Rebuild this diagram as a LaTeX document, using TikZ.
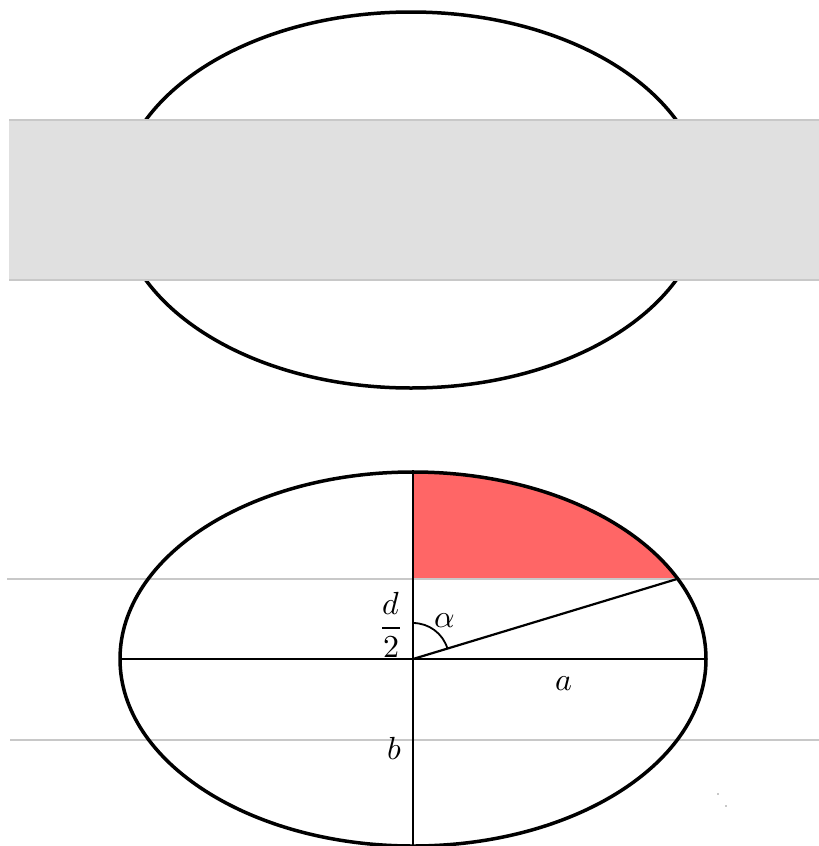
\documentclass[tikz,border=0pt]{standalone}
\usepackage{amsmath}
\usepackage{unicode-math}
\setmathfont{Latin Modern Math}
\usetikzlibrary{calc}
\definecolor{fasciagrigia}{RGB}{224,224,224}
\definecolor{lineagrigia}{RGB}{200,200,200}
\definecolor{settorerosso}{RGB}{255,102,102}

\begin{document}
\begin{tikzpicture}[x=1pt,y=-1pt,
    bordo/.style={line width=3.5pt, color=black},
    asse/.style={line width=2.2pt, color=black},
    guida/.style={line width=2pt, color=lineagrigia},
    etichetta/.style={inner sep=0pt, font=\fontsize{32}{38}\selectfont}]
    \useasboundingbox (0,0) rectangle (819,846);
    \clip (0,0) rectangle (819,846);

    % Ellisse superiore (coperta dalla fascia grigia)
    \coordinate (centroSup) at (411,200);
    \draw[bordo] (centroSup) ellipse [x radius=293pt, y radius=188pt];
    \fill[fasciagrigia] (9,119.5) rectangle (819,280);
    \draw[guida] (9,119.5) -- (819,119.5);
    \draw[guida] (9,280) -- (819,280);

    % Ellisse inferiore: settore rosso sopra la linea d/2
    \coordinate (centroInf) at (413,659);
    \coordinate (puntoP) at (677,579);
    \begin{scope}
        \clip (413,400) rectangle (819,579);
        \fill[settorerosso] (centroInf) ellipse [x radius=293pt, y radius=187pt];
    \end{scope}

    % Linee grigie orizzontali
    \draw[guida] (7,579) -- (819,579);
    \draw[guida] (10,740) -- (819,740);

    % Contorno e assi
    \draw[bordo] (centroInf) ellipse [x radius=293pt, y radius=187pt];
    \draw[asse] (120,659) -- (706,659);
    \draw[asse] (413,470) -- (413,846);
    \draw[asse] (centroInf) -- (puntoP);

    % Angolo alfa
    \draw[line width=1.8pt] ([yshift=36pt]centroInf) arc[start angle=90, end angle=16.9, radius=36pt];

    % Etichette
    \node[etichetta] (mezzoD) at (391,625) {$\dfrac{d}{2}$};
    \node[etichetta] (alfa) at (445,621) {$\alpha$};
    \node[etichetta] (semiA) at (564,684) {$a$};
    \node[etichetta] (semiB) at (395,749) {$b$};

    % Due puntini grigi
    \fill[lineagrigia] (717,793) rectangle (719,795);
    \fill[lineagrigia] (725,805) rectangle (727,807);
\end{tikzpicture}
\end{document}
